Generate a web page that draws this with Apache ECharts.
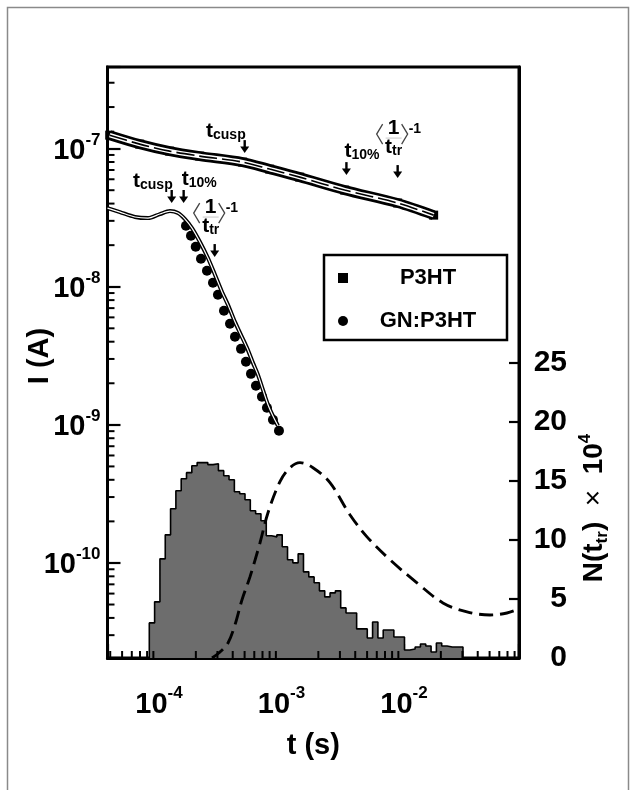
<!DOCTYPE html>
<html>
<head>
<meta charset="utf-8">
<title>Transient current and N(t_tr)</title>
<script src="https://cdn.jsdelivr.net/npm/echarts@6/dist/echarts.min.js"></script>
<style>
  html, body { margin: 0; padding: 0; background: #fff; }
  #chart { width: 637px; height: 790px; }
</style>
</head>
<body>
<div id="chart"></div>
<script>
// ---- data ----
// P3HT transient (t in s, I in A)
var p3htT = [3.96e-5, 6.96e-5, 1.223e-4, 2.149e-4, 4.82e-4, 8.01e-4, 1.408e-3, 3.28e-3, 8.88e-3, 1.747e-2]
var p3htI = [1.252e-7, 1.078e-7, 9.59e-8, 8.83e-8, 7.99e-8, 7.11e-8, 6.22e-8, 5.01e-8, 4.04e-8, 3.30e-8]

// GN:P3HT fitted curve
var gnFitT = [3.8e-5, 4.80e-5, 6.37e-5, 8.13e-5, 1.019e-4, 1.23e-4, 1.43e-4, 1.63e-4, 1.86e-4, 2.16e-4, 2.51e-4, 2.87e-4,
  3.27e-4, 3.66e-4, 4.17e-4, 4.67e-4, 5.23e-4, 5.85e-4, 6.43e-4, 7.06e-4, 7.76e-4, 8.52e-4, 9.36e-4]
var gnFitI = [3.71e-8, 3.47e-8, 3.20e-8, 3.14e-8, 3.36e-8, 3.53e-8, 3.42e-8, 3.09e-8, 2.66e-8, 2.11e-8, 1.615e-8, 1.217e-8,
  9.17e-9, 7.39e-9, 5.57e-9, 4.48e-9, 3.61e-9, 2.81e-9, 2.30e-9, 1.79e-9, 1.40e-9, 1.16e-9, 9.85e-10]

// GN:P3HT measured points
var gnDotT = [1.661e-4, 1.825e-4, 1.995e-4, 2.202e-4, 2.465e-4, 2.76e-4, 3.03e-4, 3.394e-4, 3.80e-4, 4.173e-4, 4.672e-4,
  5.13e-4, 5.636e-4, 6.19e-4, 6.93e-4, 7.61e-4, 8.52e-4, 9.54e-4]
var gnDotI = [2.767e-8, 2.342e-8, 1.95e-8, 1.596e-8, 1.306e-8, 1.069e-8, 8.75e-9, 6.70e-9, 5.39e-9, 4.34e-9, 3.55e-9,
  2.86e-9, 2.34e-9, 1.92e-9, 1.60e-9, 1.33e-9, 1.09e-9, 9.05e-10]

// histogram of transit times, N(t_tr) x 1e4, log-spaced bins
var histLogStart = -4.079
var histLogStep = 0.0434
var histN = [2.97, 4.75, 8.39, 10.42, 12.63, 14.15, 15.17, 15.68, 16.27, 16.53, 16.53, 16.36, 16.44, 15.85, 15.42, 15.08,
  14.07, 13.90, 13.39, 12.46, 12.20, 11.61, 10.34, 10.25, 10.42, 9.41, 8.31, 8.05, 8.81, 7.29, 6.86, 6.36, 5.68, 5.17,
  5.51, 5.68, 4.24, 3.81, 3.81, 2.46, 2.46, 1.69, 3.05, 1.69, 2.37, 2.37, 1.78, 1.78, 0.68, 0.76, 0.93, 1.19, 1.02,
  0.51, 1.27, 1.02, 0.93, 0.93, 0.93]

// dashed distribution curve (P3HT)
var distT = [2.71e-4, 3.15e-4, 3.66e-4, 4.17e-4, 4.76e-4, 5.53e-4, 6.68e-4, 7.76e-4, 9.72e-4, 1.173e-3, 1.416e-3,
  1.807e-3, 2.488e-3, 3.62e-3, 4.99e-3, 7.69e-3, 1.277e-2, 2.08e-2, 3.27e-2, 5.04e-2, 6.93e-2, 8.69e-2]
var distN = [0, 0.51, 1.27, 2.80, 4.92, 6.86, 9.75, 12.29, 14.92, 16.10, 16.53, 16.10, 14.83, 12.12, 10.25, 8.31,
  6.36, 4.66, 3.90, 3.64, 3.81, 4.15]

// arrows: tip position (t, I) and label kind
var annoT = [5.01e-4, 3.39e-3, 8.88e-3, 1.27e-4, 1.59e-4, 2.85e-4]
var annoI = [9.28e-8, 6.43e-8, 6.12e-8, 4.04e-8, 4.04e-8, 1.64e-8]
var annoKind = ['cusp', '10', 'inv', 'cusp', '10', 'inv']

// axes
var xMin = 3.8e-5
var xMax = 0.0869
var yMin = 2.05e-11
var yMax = 3.9e-7
var nMax = 50
var nLabels = [0, 5, 10, 15, 20, 25]

var FONT = '"Liberation Sans", Arial, Helvetica, sans-serif'

function zip (a, b) {
  return a.map(function (v, i) { return [v, b[i]] })
}

function histEdge (i) {
  return Math.pow(10, histLogStart + i * histLogStep)
}

var histData = [[histEdge(0), 0]]
for (var i = 0; i < histN.length; i++) histData.push([histEdge(i), histN[i]])
histData.push([histEdge(histN.length), histN[histN.length - 1]])
histData.push([histEdge(histN.length), 0])

// minor log ticks (2..9 per decade)
var xMinor = []
var yMinor = []
for (var d = -13; d <= 0; d++) {
  for (var m = 2; m <= 9; m++) {
    var v = m * Math.pow(10, d)
    if (v > xMin && v < xMax) xMinor.push([v, yMin])
    if (v > yMin && v < yMax) yMinor.push([xMin, v])
  }
}

function powLabel (v) {
  var e = Math.round(Math.log10(v))
  if (Math.abs(Math.log10(v) - e) > 1e-6) return ''
  return '{b|10}{sup|' + e + '}'
}

var powRich = {
  b: { fontSize: 29, fontWeight: 'bold', fontFamily: FONT, color: '#000', lineHeight: 34, verticalAlign: 'bottom' },
  sup: { fontSize: 17, fontWeight: 'bold', fontFamily: FONT, color: '#000', lineHeight: 17, verticalAlign: 'top' }
}

var annoRich = {
  t: { fontSize: 21, fontWeight: 'bold', fontFamily: FONT, fill: '#000', lineHeight: 24, verticalAlign: 'bottom' },
  s: { fontSize: 14, fontWeight: 'bold', fontFamily: FONT, fill: '#000', lineHeight: 14, verticalAlign: 'bottom' }
}

function renderAnno (params, api) {
  var k = params.dataIndex
  var p = api.coord([api.value(0), api.value(1)])
  var x = p[0]
  var y = p[1]
  var kids = [
    { type: 'line', shape: { x1: x, y1: y - 13, x2: x, y2: y - 5 }, style: { stroke: '#000', lineWidth: 2.4 } },
    { type: 'polygon', shape: { points: [[x - 4.5, y - 6.5], [x + 4.5, y - 6.5], [x, y]] }, style: { fill: '#000' } }
  ]
  var kind = annoKind[k]
  if (kind === 'cusp') {
    kids.push({ type: 'text', x: x + 1, y: y - 11, style: { text: '{t|t}{s|cusp}', rich: annoRich, align: 'right', verticalAlign: 'bottom', fill: '#000' } })
  } else if (kind === '10') {
    kids.push({ type: 'text', x: x - 2, y: y - 13, style: { text: '{t|t}{s|10%}', rich: annoRich, align: 'left', verticalAlign: 'bottom', fill: '#000' } })
  } else {
    var cx = x - 4
    var b = y - 20
    kids.push(
      { type: 'text', x: cx, y: b - 19, style: { text: '1', font: 'bold 21px ' + FONT, fill: '#000', align: 'center', verticalAlign: 'bottom' } },
      { type: 'line', shape: { x1: cx - 8, y1: b - 20, x2: cx + 8, y2: b - 20 }, style: { stroke: '#c8c8c8', lineWidth: 1 } },
      { type: 'text', x: cx, y: b, style: { text: '{t|t}{s|tr}', rich: annoRich, align: 'center', verticalAlign: 'bottom', fill: '#000' } },
      { type: 'polyline', shape: { points: [[cx - 11, b - 34], [cx - 17, b - 24], [cx - 11, b - 14]] }, style: { stroke: '#444', lineWidth: 1.3, fill: null } },
      { type: 'polyline', shape: { points: [[cx + 8, b - 34], [cx + 14, b - 24], [cx + 8, b - 14]] }, style: { stroke: '#444', lineWidth: 1.3, fill: null } },
      { type: 'text', x: cx + 15, y: b - 22, style: { text: '-1', font: 'bold 14px ' + FONT, fill: '#000', align: 'left', verticalAlign: 'bottom' } }
    )
  }
  return { type: 'group', children: kids }
}

function renderTickX (params, api) {
  var p = api.coord([api.value(0), api.value(1)])
  return { type: 'line', shape: { x1: p[0], y1: p[1], x2: p[0], y2: p[1] - 7 }, style: { stroke: '#000', lineWidth: 2 } }
}

function renderTickY (params, api) {
  var p = api.coord([api.value(0), api.value(1)])
  return { type: 'line', shape: { x1: p[0], y1: p[1], x2: p[0] + 7, y2: p[1] }, style: { stroke: '#000', lineWidth: 2 } }
}

var myChart = echarts.init(document.getElementById('chart'), null, { renderer: 'canvas' })

var option = {
  animation: false,
  backgroundColor: '#fff',
  grid: {
    left: 107.5,
    right: 118,
    top: 67,
    bottom: 132,
    show: true,
    borderColor: '#000',
    borderWidth: 3,
    outerBoundsMode: 'none'
  },
  legend: {
    data: [{ name: 'P3HT', icon: 'rect' }, { name: 'GN:P3HT', icon: 'circle' }],
    orient: 'vertical',
    left: 324,
    top: 255,
    padding: [12, 4, 8, 14],
    itemGap: 21,
    itemWidth: 10,
    itemHeight: 10,
    borderColor: '#000',
    borderWidth: 2.5,
    selectedMode: false,
    itemStyle: { opacity: 1 },
    formatter: function (name) { return '{c|' + name + '}' },
    textStyle: {
      color: '#000',
      fontSize: 22,
      fontWeight: 'bold',
      fontFamily: FONT,
      rich: { c: { width: 150, align: 'center', fontSize: 22, fontWeight: 'bold', fontFamily: FONT, lineHeight: 24, color: '#000' } }
    }
  },
  xAxis: {
    type: 'log',
    logBase: 10,
    min: xMin,
    max: xMax,
    axisLine: { show: true, onZero: false, lineStyle: { color: '#000', width: 3 } },
    axisTick: { show: true, inside: true, length: 14, lineStyle: { color: '#000', width: 2.2 } },
    axisLabel: { margin: 27, formatter: powLabel, rich: powRich, color: '#000' },
    splitLine: { show: false },
    name: 't (s)',
    nameLocation: 'middle',
    nameGap: 73,
    nameTextStyle: { color: '#000', fontSize: 29, fontWeight: 'bold', fontFamily: FONT }
  },
  yAxis: [
    {
      type: 'log',
      logBase: 10,
      min: yMin,
      max: yMax,
      position: 'left',
      axisLine: { show: true, onZero: false, lineStyle: { color: '#000', width: 3 } },
      axisTick: { show: true, inside: true, length: 13, lineStyle: { color: '#000', width: 2.2 } },
      axisLabel: { margin: 7, formatter: powLabel, rich: powRich, color: '#000' },
      splitLine: { show: false }
    },
    {
      type: 'value',
      min: 0,
      max: nMax,
      interval: 5,
      position: 'right',
      axisLine: { show: true, onZero: false, lineStyle: { color: '#000', width: 3 } },
      axisTick: { show: true, inside: true, length: 10, customValues: nLabels, lineStyle: { color: '#000', width: 2.2 } },
      axisLabel: {
        customValues: nLabels,
        align: 'right',
        margin: 48,
        color: '#000',
        fontSize: 30,
        fontWeight: 'bold',
        fontFamily: FONT
      },
      splitLine: { show: false }
    }
  ],
  graphic: [
    {
      type: 'rect',
      shape: { x: 7.5, y: 7.5, width: 621, height: 820 },
      style: { fill: null, stroke: '#8a8a8a', lineWidth: 1.5 },
      silent: true,
      z: 0
    },
    {
      type: 'text',
      x: 40,
      y: 356,
      rotation: Math.PI / 2,
      style: { text: 'I (A)', font: 'bold 29px ' + FONT, fill: '#000', align: 'center', verticalAlign: 'middle' },
      z: 10
    },
    {
      type: 'text',
      x: 594,
      y: 508,
      rotation: Math.PI / 2,
      style: {
        text: '{b|N(t}{s|tr}{b|)}{x|  ×  }{b|10}{p|4}',
        align: 'center',
        verticalAlign: 'middle',
        fill: '#000',
        rich: {
          b: { fontSize: 28, fontWeight: 'bold', fontFamily: FONT, lineHeight: 34, verticalAlign: 'middle', fill: '#000' },
          s: { fontSize: 17, fontWeight: 'bold', fontFamily: FONT, lineHeight: 17, verticalAlign: 'bottom', fill: '#000' },
          x: { fontSize: 28, fontWeight: 'normal', fontFamily: FONT, lineHeight: 34, verticalAlign: 'middle', fill: '#000' },
          p: { fontSize: 17, fontWeight: 'bold', fontFamily: FONT, lineHeight: 17, verticalAlign: 'top', fill: '#000' }
        }
      },
      z: 10
    }
  ],
  series: [
    {
      name: 'hist',
      type: 'line',
      yAxisIndex: 1,
      data: histData,
      step: 'end',
      symbol: 'none',
      lineStyle: { color: '#000', width: 1.6 },
      areaStyle: { color: '#6d6d6d', opacity: 1 },
      silent: true
    },
    {
      name: 'dist',
      type: 'line',
      yAxisIndex: 1,
      data: zip(distT, distN),
      smooth: 0.35,
      symbol: 'none',
      lineStyle: { color: '#000', width: 2.9, type: [14, 7] },
      silent: true
    },
    {
      name: 'p3ht-band',
      type: 'line',
      data: zip(p3htT, p3htI),
      smooth: 0.3,
      symbol: 'none',
      lineStyle: { color: '#000', width: 10 },
      silent: true
    },
    {
      name: 'P3HT',
      type: 'scatter',
      data: zip(p3htT, p3htI),
      symbol: 'rect',
      symbolSize: 9,
      itemStyle: { color: '#000', opacity: 1 },
      silent: true
    },
    {
      name: 'p3ht-inner',
      type: 'line',
      data: zip(p3htT, p3htI),
      smooth: 0.3,
      symbol: 'none',
      lineStyle: { color: '#fff', width: 4.5 },
      silent: true
    },
    {
      name: 'p3ht-fit',
      type: 'line',
      data: zip(p3htT, p3htI),
      smooth: 0.3,
      symbol: 'none',
      lineStyle: { color: '#000', width: 1.6, type: [18, 5] },
      silent: true
    },
    {
      name: 'GN:P3HT',
      type: 'scatter',
      data: zip(gnDotT, gnDotI),
      symbol: 'circle',
      symbolSize: 10,
      itemStyle: { color: '#000', opacity: 1 },
      silent: true
    },
    {
      name: 'gn-fit',
      type: 'line',
      data: zip(gnFitT, gnFitI),
      smooth: 0.3,
      symbol: 'none',
      lineStyle: { color: '#000', width: 4 },
      silent: true
    },
    {
      name: 'gn-fit-inner',
      type: 'line',
      data: zip(gnFitT, gnFitI),
      smooth: 0.3,
      symbol: 'none',
      lineStyle: { color: '#fff', width: 1.2 },
      silent: true
    },
    {
      name: 'arrows',
      type: 'custom',
      data: zip(annoT, annoI),
      encode: { x: 0, y: 1 },
      renderItem: renderAnno,
      clip: false,
      silent: true,
      z: 5
    },
    {
      name: 'x-minor',
      type: 'custom',
      data: xMinor,
      encode: { x: 0, y: 1 },
      renderItem: renderTickX,
      clip: false,
      silent: true,
      z: 6
    },
    {
      name: 'y-minor',
      type: 'custom',
      data: yMinor,
      encode: { x: 0, y: 1 },
      renderItem: renderTickY,
      clip: false,
      silent: true,
      z: 6
    }
  ]
}

myChart.setOption(option)
</script>
</body>
</html>
